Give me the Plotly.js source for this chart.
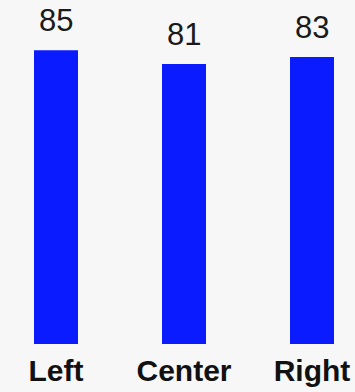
<!DOCTYPE html>
<html><head><meta charset="utf-8">
<script src="https://cdn.plot.ly/plotly-3.0.1.min.js"></script>
<style>html,body{margin:0;padding:0;background:#f7f7f7;}#chart{width:355px;height:392px;}</style>
</head><body><div id="chart"></div>
<script>
var categories = ['Left', 'Center', 'Right'];
var values = [85, 81, 83];
var valueLabels = ['85', '81', '83'];

var trace = {
  type: 'bar',
  x: categories,
  y: values,
  width: 0.34375,
  marker: {color: '#0b1bff'},
  hoverinfo: 'none'
};
var annotations = categories.map(function(c, i){
  return {x: c, y: values[i], text: valueLabels[i], showarrow: false,
    xanchor: 'center', yanchor: 'bottom', yshift: 10,
    font: {family: 'Liberation Sans, Arial, sans-serif', size: 31, color: '#1a1a1a'}};
});
var layout = {
  width: 355, height: 392,
  margin: {l: 0, r: 0, t: 0, b: 48, pad: 0},
  paper_bgcolor: '#f7f7f7', plot_bgcolor: '#f7f7f7',
  showlegend: false,
  xaxis: {range: [-0.4375, 2.3359], showgrid: false, zeroline: false, showline: false, ticks: '',
    ticklabelstandoff: 6,
    tickfont: {family: 'Liberation Sans, Arial, sans-serif', size: 30, color: '#111', weight: 'bold'}},
  yaxis: {range: [0, 99.5], visible: false},
  annotations: annotations
};
Plotly.newPlot('chart', [trace], layout, {displayModeBar: false, staticPlot: true});
</script></body></html>
